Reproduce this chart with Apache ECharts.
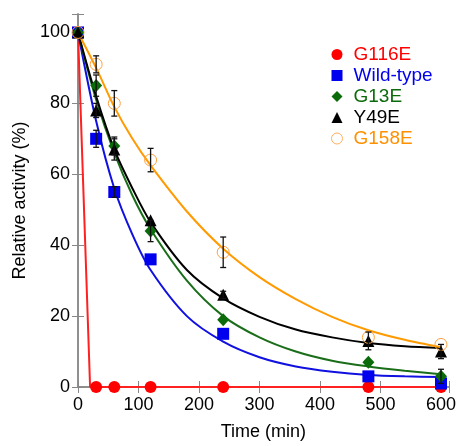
<!DOCTYPE html>
<html>
<head>
<meta charset="utf-8">
<script src="https://cdn.jsdelivr.net/npm/echarts@6/dist/echarts.min.js"></script>
<style>
html, body { margin: 0; padding: 0; background: #fff; }
#chart { width: 459px; height: 446px; }
</style>
</head>
<body>
<div id="chart"></div>
<script>
// measured time points (min)
var times = [0, 30, 60, 120, 240, 480, 600];

// relative activity (%)
var g116e = [100, 0, 0, 0, 0, 0, 0];
var wildType = [100, 70, 55, 36, 15, 3, 1];
var g13e = [100, 85, 68, 44, 19, 7, 3];
var y49e = [100, 78, 67, 47, 26, 13, 10];
var g158e = [100, 91, 80, 64, 38, 14, 12];

// error bar half widths
var wildErr = [0, 2.4, 1.5, 0, 0, 0, 0];
var g13Err = [0, 3, 2.5, 3, 0, 0, 2];
var y49Err = [0, 2, 3, 0, 1, 2.5, 2];
var g158Err = [0, 2.4, 3.6, 3.3, 4.3, 0, 0];

// fitted curves
var fitG116T = [0, 20, 600];
var fitG116V = [100, 0, 0];
var fitT = [0, 30, 60, 90, 120, 180, 240, 300, 360, 420, 480, 540, 600];
var fitWild = [100, 75, 56, 43, 33, 20, 12.8, 8.4, 5.8, 4.3, 3.4, 3.0, 2.8];
var fitG13 = [100, 81, 66, 54, 44.5, 30, 20, 14, 10, 7.4, 5.8, 4.6, 3.6];
var fitY49 = [100, 82, 67, 56, 46.5, 33, 25, 19.8, 16.2, 14, 12.4, 11.5, 11];
var fitG158 = [100, 90, 79, 70, 62.5, 49.5, 39, 31, 24.8, 19.8, 16, 13.3, 11.2];

var names = ['G116E', 'Wild-type', 'G13E', 'Y49E', 'G158E'];
var colors = ['#ff0000', '#0000ee', '#0b6b0b', '#000000', '#ff9000'];
var lineColors = ['#ff2020', '#1010e0', '#1a6e1a', '#000000', '#ff9a00'];

function pairs(xs, ys) {
    return xs.map(function (x, i) { return [x, ys[i]]; });
}

function errData(vals, errs) {
    var out = [];
    times.forEach(function (t, i) {
        if (errs[i] > 0) out.push([t, vals[i] - errs[i], vals[i] + errs[i]]);
    });
    return out;
}

var allErr = []
    .concat(errData(wildType, wildErr))
    .concat(errData(g13e, g13Err))
    .concat(errData(y49e, y49Err))
    .concat(errData(g158e, g158Err));

function fitLine(name, xs, ys, color, smooth) {
    return {
        name: name, type: 'line', data: pairs(xs, ys), smooth: smooth,
        showSymbol: false, silent: true, z: 2,
        lineStyle: { color: color, width: 2 }
    };
}

var font = 'Liberation Sans, Arial, sans-serif';
var chart = echarts.init(document.getElementById('chart'));

chart.setOption({
    animation: false,
    backgroundColor: '#fff',
    grid: { left: 78, right: 5, top: 14, bottom: 57 },
    legend: {
        orient: 'vertical', left: 326, top: 40, itemGap: 2,
        itemWidth: 11, itemHeight: 11,
        textStyle: { fontFamily: font, fontSize: 19, padding: [0, 0, 0, 6] },
        data: [
            { name: 'G116E', icon: 'circle', itemStyle: { color: colors[0] }, textStyle: { color: colors[0] } },
            { name: 'Wild-type', icon: 'rect', itemStyle: { color: colors[1] }, textStyle: { color: colors[1] } },
            { name: 'G13E', icon: 'diamond', itemStyle: { color: colors[2] }, textStyle: { color: colors[2] } },
            { name: 'Y49E', icon: 'triangle', itemStyle: { color: colors[3] }, textStyle: { color: colors[3] } },
            { name: 'G158E', icon: 'circle', itemStyle: { color: '#fff', borderColor: '#ffb060', borderWidth: 1 }, textStyle: { color: colors[4] } }
        ]
    },
    xAxis: [{
        type: 'value', min: 0, max: 613, interval: 100,
        name: 'Time (min)', nameLocation: 'middle', nameGap: 36,
        nameTextStyle: { fontFamily: font, fontSize: 18, color: '#000' },
        axisLine: { lineStyle: { color: '#888', width: 1.5 } },
        axisTick: { inside: true, length: 6, lineStyle: { color: '#888' } },
        axisLabel: {
            fontFamily: font, fontSize: 18, color: '#000', margin: 9,
            formatter: function (v) { return v % 100 === 0 ? v : ''; }
        },
        splitLine: { show: false }
    }, {
        type: 'value', min: 0, max: 613, interval: 100, position: 'top',
        axisLine: { show: true, lineStyle: { color: '#888', width: 1.5 } },
        axisTick: { show: true, inside: true, length: 6, lineStyle: { color: '#888' } },
        axisLabel: { show: false },
        splitLine: { show: false }
    }],
    yAxis: [{
        type: 'value', min: 0, max: 105.2, interval: 20,
        name: 'Relative activity (%)', nameLocation: 'middle', nameGap: 44,
        nameTextStyle: { fontFamily: font, fontSize: 18, color: '#000' },
        axisLine: { show: true, lineStyle: { color: '#888', width: 1.5 } },
        axisTick: { show: true, inside: true, length: 6, lineStyle: { color: '#888' } },
        axisLabel: {
            fontFamily: font, fontSize: 18, color: '#000', margin: 8,
            formatter: function (v) { return v % 20 === 0 ? v : ''; }
        },
        splitLine: { show: false }
    }, {
        type: 'value', min: 0, max: 105.2, interval: 20, position: 'right',
        axisLine: { show: true, lineStyle: { color: '#888', width: 1.5 } },
        axisTick: { show: true, inside: true, length: 6, lineStyle: { color: '#888' } },
        axisLabel: { show: false },
        splitLine: { show: false }
    }],
    series: [
        fitLine('fit G116E', fitG116T, fitG116V, lineColors[0], false),
        fitLine('fit Wild-type', fitT, fitWild, lineColors[1], 0.3),
        fitLine('fit G13E', fitT, fitG13, lineColors[2], 0.3),
        fitLine('fit Y49E', fitT, fitY49, lineColors[3], 0.3),
        fitLine('fit G158E', fitT, fitG158, lineColors[4], 0.3),
        {
            name: 'G116E', type: 'scatter', data: pairs(times, g116e),
            symbol: 'circle', symbolSize: 12, z: 3,
            itemStyle: { color: colors[0], opacity: 1 }
        },
        {
            name: 'Wild-type', type: 'scatter', data: pairs(times, wildType),
            symbol: 'rect', symbolSize: 12, z: 3,
            itemStyle: { color: colors[1], opacity: 1 }
        },
        {
            name: 'G13E', type: 'scatter', data: pairs(times, g13e),
            symbol: 'diamond', symbolSize: [12, 13], z: 3,
            itemStyle: { color: colors[2], opacity: 1 }
        },
        {
            name: 'Y49E', type: 'scatter', data: pairs(times, y49e),
            symbol: 'triangle', symbolSize: 12, z: 3,
            itemStyle: { color: colors[3], opacity: 1 }
        },
        {
            name: 'G158E', type: 'scatter', data: pairs(times, g158e),
            symbol: 'circle', symbolSize: 12, z: 3,
            itemStyle: { color: 'rgba(255,255,255,0)', borderColor: '#ffa040', borderWidth: 1, opacity: 1 }
        },
        {
            name: 'errors', type: 'custom', data: allErr, z: 4, silent: true,
            encode: { x: 0, y: [1, 2] },
            renderItem: function (params, api) {
                var x = api.value(0);
                var lo = api.coord([x, api.value(1)]);
                var hi = api.coord([x, api.value(2)]);
                var w = 3;
                var style = { stroke: '#111', lineWidth: 1.3, fill: null };
                return {
                    type: 'group',
                    children: [
                        { type: 'line', shape: { x1: lo[0], y1: lo[1], x2: hi[0], y2: hi[1] }, style: style },
                        { type: 'line', shape: { x1: lo[0] - w, y1: lo[1], x2: lo[0] + w, y2: lo[1] }, style: style },
                        { type: 'line', shape: { x1: hi[0] - w, y1: hi[1], x2: hi[0] + w, y2: hi[1] }, style: style }
                    ]
                };
            }
        }
    ]
});
</script>
</body>
</html>
